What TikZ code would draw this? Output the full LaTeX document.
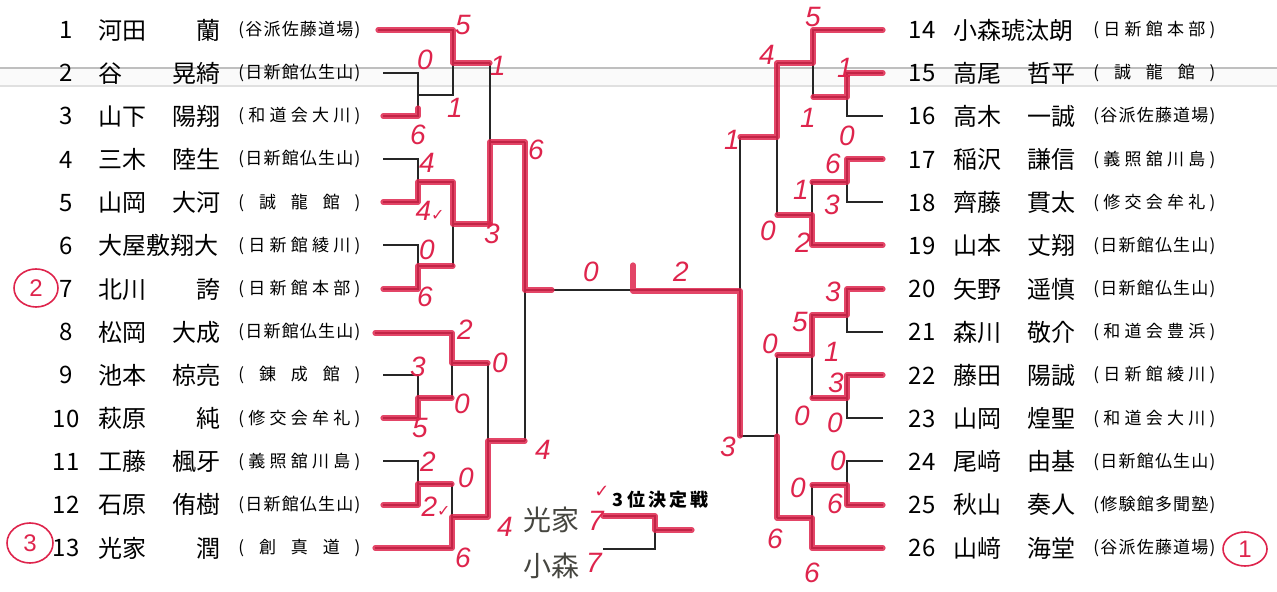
\documentclass[tikz,border=0pt]{standalone}
\usepackage{fontspec}
\setmainfont{Noto Sans CJK JP}
\newfontfamily\hand{Liberation Sans}
\newfontfamily\sym{DejaVu Sans}
\usetikzlibrary{shapes.geometric}
\definecolor{ink}{RGB}{222,36,76}
\definecolor{pencil}{RGB}{70,70,64}
\newcommand\pname[2]{\makebox[61pt][s]{#1\hfill#2}}
\makeatletter
\newcommand\dojo[1]{\makebox[61pt][s]{\fontsize{8.5}{9}\selectfont(\hfill\@tfor\dj@c:=#1\do{\dj@c\hfill})}}
\makeatother
\newcommand\tick{{\sym\fontsize{8}{8}\selectfont\char"2713}}

\begin{document}
\begin{tikzpicture}[x=.5pt, y=-.5pt,
	wire/.style={line width=.6pt, black!85},
	win/.style={line width=2.6pt, ink, opacity=.85, line cap=round, line join=round},
	score/.style={inner sep=0, text=ink, font=\hand\itshape\fontsize{14}{14}\selectfont},
	ring/.style={draw=ink, ellipse, line width=.8pt, inner sep=0, text=ink, font=\hand\fontsize{12}{12}\selectfont},
	num/.style={inner sep=0, font=\fontsize{12}{12}\selectfont},
	who/.style={inner sep=0, anchor=west, font=\fontsize{12}{12}\selectfont}]
	\useasboundingbox (0,0) rectangle (1277,592);
	\fill[black!2] (0,68) rectangle (1277,86);
	\draw[black!25, line width=1pt] (0,68) -- (1277,68);
	\draw[black!12, line width=.8pt] (0,86) -- (1277,86);

	\foreach \n/\fam/\giv/\club in {1/河田/蘭/谷派佐藤道場, 2/谷/晃綺/日新館仏生山, 3/山下/陽翔/和道会大川,
		4/三木/陸生/日新館仏生山, 5/山岡/大河/誠龍館, 6/大屋敷翔大/{}/日新館綾川, 7/北川/誇/日新館本部,
		8/松岡/大成/日新館仏生山, 9/池本/椋亮/錬成館, 10/萩原/純/修交会牟礼, 11/工藤/楓牙/義照舘川島,
		12/石原/侑樹/日新館仏生山, 13/光家/潤/創真道}{
		\pgfmathsetmacro\y{30+(\n-1)*43.17}
		\node[num] (n\n) at (66,\y) {\n};
		\node[who] (p\n) at (98,\y) {\pname{\fam}{\giv}};
		\node[who] (c\n) at (238,\y) {\expandafter\dojo\expandafter{\club}};
	}
	\foreach \n/\fam/\giv/\club in {14/小森琥汰朗/{}/日新館本部, 15/高尾/哲平/誠龍館, 16/高木/一誠/谷派佐藤道場,
		17/稲沢/謙信/義照舘川島, 18/齊藤/貫太/修交会牟礼, 19/山本/丈翔/日新館仏生山, 20/矢野/遥慎/日新館仏生山,
		21/森川/敬介/和道会豊浜, 22/藤田/陽誠/日新館綾川, 23/山岡/煌聖/和道会大川, 24/尾﨑/由基/日新館仏生山,
		25/秋山/奏人/修験館多聞塾, 26/山﨑/海堂/谷派佐藤道場}{
		\pgfmathsetmacro\y{30+(\n-14)*43.17}
		\node[num] (n\n) at (922,\y) {\n};
		\node[who] (p\n) at (953,\y) {\pname{\fam}{\giv}};
		\node[who] (c\n) at (1093,\y) {\expandafter\dojo\expandafter{\club}};
	}

	% left bracket
	\draw[wire] (378,30) -| (453,95) -- (418,95);
	\draw[wire] (383,73) -| (418,116) -- (383,116);
	\draw[wire] (453,63) -- (490,63);
	\draw[wire] (383,159) -| (418,202) -- (383,202);
	\draw[wire] (383,245) -| (418,289) -- (383,289);
	\draw[wire] (418,182) -| (453,266) -- (418,266);
	\draw[wire] (453,224) -- (490,224);
	\draw[wire] (490,63) -- (490,224);
	\draw[wire] (490,142) -- (525,142);
	\draw[wire] (375,333) -| (452,398) -- (418,398);
	\draw[wire] (383,375) -| (418,418) -- (383,418);
	\draw[wire] (452,363) -- (488,363);
	\draw[wire] (383,461) -| (418,505) -- (383,505);
	\draw[wire] (418,484) -| (452,548) -- (375,548);
	\draw[wire] (452,517) -- (488,517);
	\draw[wire] (488,363) -- (488,517);
	\draw[wire] (488,441) -- (525,441);
	\draw[wire] (525,142) -- (525,441);
	\draw[wire] (525,290) -- (740,290);
	% right bracket
	\draw[wire] (883,30) -| (813,97) -- (847,97);
	\draw[wire] (883,73) -| (847,116) -- (883,116);
	\draw[wire] (813,63) -- (777,63);
	\draw[wire] (883,159) -| (847,202) -- (883,202);
	\draw[wire] (847,182) -| (812,245) -- (883,245);
	\draw[wire] (812,215) -- (777,215);
	\draw[wire] (777,63) -- (777,215);
	\draw[wire] (777,137) -- (740,137);
	\draw[wire] (883,289) -| (847,332) -- (883,332);
	\draw[wire] (883,375) -| (847,418) -- (883,418);
	\draw[wire] (847,315) -| (812,398) -- (847,398);
	\draw[wire] (812,355) -- (777,355);
	\draw[wire] (883,461) -| (847,505) -- (883,505);
	\draw[wire] (847,485) -| (812,548) -- (883,548);
	\draw[wire] (812,518) -- (777,518);
	\draw[wire] (777,355) -- (777,518);
	\draw[wire] (777,436) -- (740,436);
	\draw[wire] (740,137) -- (740,436);
	% 3rd place
	\draw[wire] (603,516) -| (655,549) -- (603,549);
	\draw[wire] (655,530) -- (692,530);

	% winners
	\draw[win] (378,30) -| (453,63) -- (490,63);
	\draw[win] (383,116) -- (418,116) -- (418,108);
	\draw[win] (383,202) -| (418,182) -| (453,224) -- (490,224);
	\draw[win] (383,289) -| (418,266) -- (453,266);
	\draw[win] (490,224) -- (490,142) -- (525,142) -- (525,290) -- (552,290);
	\draw[win] (375,333) -| (452,363) -- (488,363);
	\draw[win] (383,418) -| (418,398) -- (452,398);
	\draw[win] (383,505) -| (418,484) -- (452,484);
	\draw[win] (375,548) -| (452,517) -- (488,517) -- (488,441) -- (525,441);
	\draw[win] (633,265) -- (633,291) -- (740,291) -- (740,436);
	\draw[win] (883,30) -| (813,63) -- (777,63) -- (777,137) -- (740,137);
	\draw[win] (883,73) -| (847,97) -- (813,97);
	\draw[win] (883,159) -| (847,182) -- (812,182);
	\draw[win] (883,245) -| (812,215) -- (777,215);
	\draw[win] (883,289) -| (847,315) -- (812,315) -- (812,355) -- (777,355);
	\draw[win] (883,375) -| (847,398) -- (812,398);
	\draw[win] (883,505) -| (847,485) -- (812,485);
	\draw[win] (883,548) -| (812,518) -- (777,518) -- (777,436);
	\draw[win] (603,516) -| (655,530) -- (692,530);

	% scores
	\node[score] (a1) at (463,25) {5};
	\node[score] (a2) at (425,60) {0};
	\node[score] (a3) at (455,108) {1};
	\node[score] (a4) at (418,135) {6};
	\node[score] (a5) at (498,66) {1};
	\node[score] (a6) at (427,163) {4};
	\node[score] (a7) at (430,211) {4\tick};
	\node[score] (a8) at (492,234) {3};
	\node[score] (a9) at (427,250) {0};
	\node[score] (a10) at (425,297) {6};
	\node[score] (a11) at (536,150) {6};
	\node[score] (a12) at (591,272) {0};
	\node[score] (a13) at (681,272) {2};
	\node[score] (b1) at (465,330) {2};
	\node[score] (b2) at (418,367) {3};
	\node[score] (b3) at (500,363) {0};
	\node[score] (b4) at (462,404) {0};
	\node[score] (b5) at (420,428) {5};
	\node[score] (b6) at (543,450) {4};
	\node[score] (b7) at (428,462) {2};
	\node[score] (b8) at (466,478) {0};
	\node[score] (b9) at (436,507) {2\tick};
	\node[score] (b10) at (505,527) {4};
	\node[score] (b11) at (463,558) {6};
	\node[score] (c1) at (813,17) {5};
	\node[score] (c2) at (767,55) {4};
	\node[score] (c3) at (845,68) {1};
	\node[score] (c4) at (808,118) {1};
	\node[score] (c5) at (847,136) {0};
	\node[score] (c6) at (732,140) {1};
	\node[score] (c7) at (833,164) {6};
	\node[score] (c8) at (801,190) {1};
	\node[score] (c9) at (832,205) {3};
	\node[score] (c10) at (768,231) {0};
	\node[score] (c11) at (803,243) {2};
	\node[score] (d1) at (833,292) {3};
	\node[score] (d2) at (800,322) {5};
	\node[score] (d3) at (770,344) {0};
	\node[score] (d4) at (832,352) {1};
	\node[score] (d5) at (836,383) {3};
	\node[score] (d6) at (802,416) {0};
	\node[score] (d7) at (835,423) {0};
	\node[score] (d8) at (728,447) {3};
	\node[score] (d9) at (838,461) {0};
	\node[score] (d10) at (798,488) {0};
	\node[score] (d11) at (835,504) {6};
	\node[score] (d12) at (775,539) {6};
	\node[score] (d13) at (812,573) {6};

	% 3rd place match
	\node[inner sep=0, anchor=west, font=\bfseries\fontsize{9}{9}\selectfont] (third) at (612,500) {3 位\,決\,定\,戦};
	\node[inner sep=0, text=ink, font=\sym\fontsize{9}{9}\selectfont] (chk) at (602,492) {\char"2713};
	\node[score] (e1) at (596,521) {7};
	\node[score] (e2) at (594,563) {7};
	\node[inner sep=0, text=pencil, font=\fontsize{14}{14}\selectfont] (h1) at (551,520) {光家};
	\node[inner sep=0, text=pencil, font=\fontsize{14}{14}\selectfont] (h2) at (551,566) {小森};

	% places
	\node[ring, minimum width=22pt, minimum height=19pt] (r2) at (36,288) {2};
	\node[ring, minimum width=23pt, minimum height=20pt] (r3) at (30,543) {3};
	\node[ring, minimum width=22pt, minimum height=17pt] (r1) at (1245,549) {1};
\end{tikzpicture}
\end{document}
